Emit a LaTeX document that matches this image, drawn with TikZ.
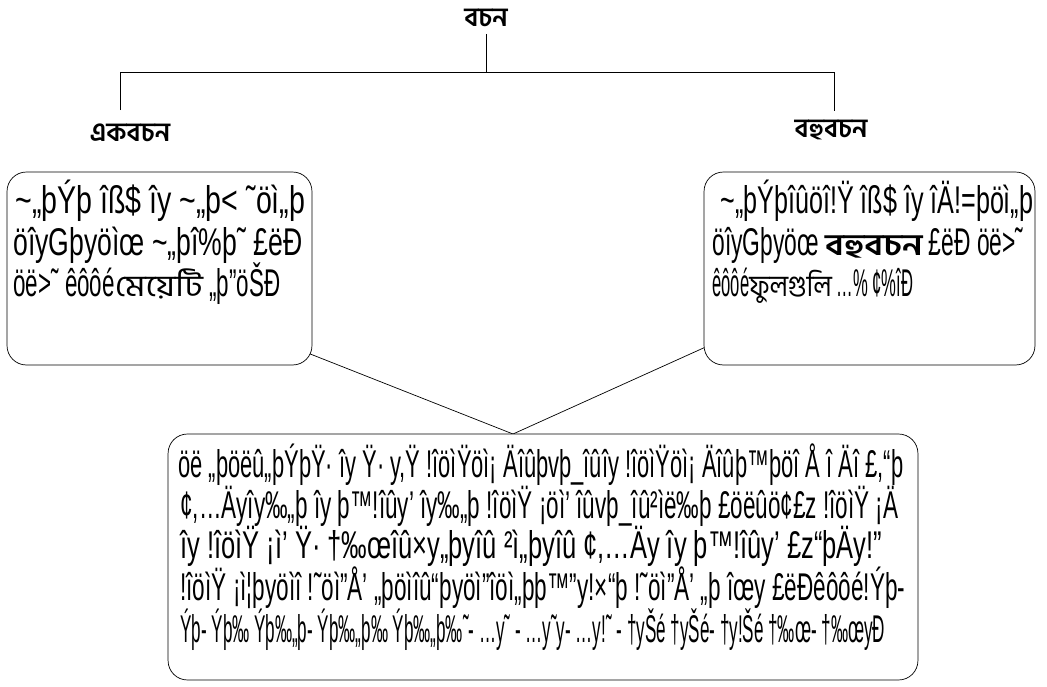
\documentclass[tikz,border=0pt]{standalone}
\usepackage{graphicx}
\usepackage{fontspec}
\newfontfamily\legacy[FakeStretch=0.5]{Liberation Sans}
\newfontfamily\bangla[Script=Bengali]{Hind Siliguri}
\newcommand{\tl}{\textasciitilde}
\newcommand{\bn}[1]{{\bangla\fontsize{17}{18}\selectfont #1}}
\newcommand{\fit}[2]{\resizebox{#1}{\height}{#2}}
\begin{document}
\begin{tikzpicture}[x=0.02cm,y=-0.02cm,
	line/.style={font=\legacy\fontsize{22}{26}\selectfont,anchor=base west,inner sep=0pt},
	head/.style={font=\bangla\bfseries\fontsize{15}{18}\selectfont,inner sep=0pt},
	card/.style={draw,fill=white,rounded corners=11pt,inner sep=0pt}]
	\useasboundingbox (0,0) rectangle (1047,686);
	
	%Headings
	\node[head] (root) at (486,18) {বচন};
	\node[head] (sing) at (130,133) {একবচন};
	\node[head] (plur) at (831,130) {বহুবচন};
	
	%Tree lines
	\coordinate (top) at (486,34);
	\coordinate (hl) at (120,72);
	\coordinate (hr) at (834,72);
	\coordinate (sl) at (120,110);
	\coordinate (sr) at (834,111);
	\draw (top) -- (top |- hl);
	\draw (sl) -- (hl) -- (hr) -- (sr);
	
	%Connectors into the bottom box (the boxes cover their ends)
	\coordinate (apex) at (513,434);
	\coordinate (lfoot) at (290,346);
	\coordinate (rfoot) at (730,336);
	\draw (lfoot) -- (apex);
	\draw (rfoot) -- (apex);
	
	%Boxes
	\node[card,minimum width=6.1cm,minimum height=3.86cm] (lbox) at (159.5,268.5) {};
	\node[card,minimum width=6.62cm,minimum height=3.86cm] (rbox) at (869.5,268.5) {};
	\node[card,minimum width=15cm,minimum height=4.92cm] (bbox) at (543,557) {};
	
	%Left box text
	\node[line] (l1) at (15,213) {\fit{5.8cm}{\tl„þÝþ îß\$ îy \tl„þ< ˜öì„þ}};
	\node[line] (l2) at (13,255) {\fit{5.78cm}{öîyGþyöìœ \tl„þî\%þ˜ £ëÐ}};
	\node[line] (l3) at (13,296) {\fit{5.34cm}{öë>˜ êôôé\bn{মেয়েটি} „þ”öŠÐ}};
	
	%Right box text
	\node[line] (r1) at (720,213) {\fit{6.26cm}{\tl„þÝþîûöî!Ÿ îß\$ îy îÄ!=þöì„þ}};
	\node[line] (r2) at (712,255) {\fit{6.22cm}{öîyGþyöœ \bn{\bfseries বহুবচন} £ëÐ öë>˜}};
	\node[line] (r3) at (712,296) {\fit{4.02cm}{êôôé\bn{ফুলগুলি} …\% ¢\%îÐ}};
	
	%Bottom box text
	\node[line] (b1) at (178,477) {\fit{14.5cm}{öë „þöëû„þÝþŸ· îy Ÿ· y,Ÿ !îöìŸöì¡ Äîûþvþ\_îûîy !îöìŸöì¡ Äîûþ™þöî Å î Äî £,“þ}};
	\node[line] (b2) at (180,518) {\fit{14.36cm}{¢,…Äyîy‰„þ îy þ™!îûy’ îy‰„þ !îöìŸ ¡öì’ îûvþ\_îû²ìë‰þ £öëûö¢£z !îöìŸ ¡Ä}};
	\node[line] (b3) at (180,558) {\fit{14.04cm}{îy !îöìŸ ¡ì’ Ÿ· †‰œîû×y„þyîû ²ì„þyîû ¢,…Äy îy þ™!îûy’ £z“þÄy!”}};
	\node[line] (b4) at (180,600) {\fit{14.5cm}{!îöìŸ ¡ì¦þyöìî !˜öì”Å’ „þöìîû“þyöì”îöì„þþ™”y!×“þ !˜öì”Å’ „þ îœy £ëÐêôôé!Ýþ-}};
	\node[line] (b5) at (180,642) {\fit{14.1cm}{Ýþ- Ýþ‰ Ýþ‰„þ- Ýþ‰„þ‰ Ýþ‰„þ‰˜- …y˜ - …y˜y- …y!˜ - †yŠé †yŠé- †y!Šé †‰œ- †‰œyÐ}};
	
\end{tikzpicture}
\end{document}
